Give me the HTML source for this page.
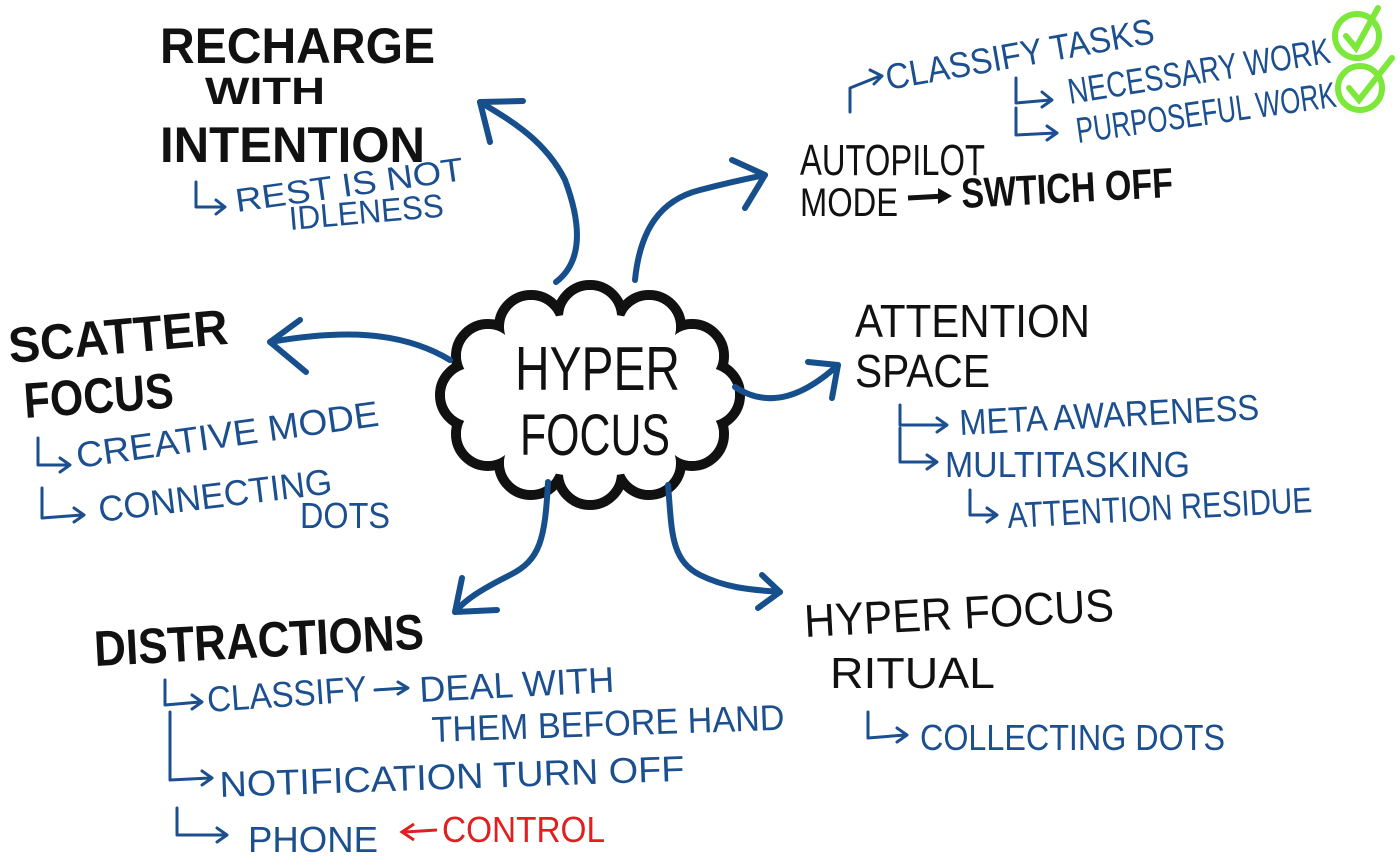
<!DOCTYPE html>
<html><head><meta charset="utf-8"><style>
html,body{margin:0;padding:0;background:#fff;}
svg{display:block}
.k{font-family:"Liberation Sans",sans-serif;font-weight:bold;fill:#111;font-size:50px}
.b{font-family:"Liberation Sans",sans-serif;fill:#1b4f8f;font-size:36px}
.r{font-family:"Liberation Sans",sans-serif;fill:#e02020;font-size:36px}
.a{fill:none;stroke:#164f8c;stroke-width:6;stroke-linecap:round;stroke-linejoin:round}
.s{fill:none;stroke:#1b4f8f;stroke-width:3;stroke-linecap:round;stroke-linejoin:round}
</style></head><body>
<svg width="1400" height="861" viewBox="0 0 1400 861" xmlns="http://www.w3.org/2000/svg">
<g stroke="#111" stroke-width="10" fill="#fff">
<circle cx="708" cy="395" r="32"/><circle cx="692" cy="356" r="32"/><circle cx="649" cy="327" r="32"/><circle cx="590" cy="317" r="32"/><circle cx="531" cy="327" r="32"/><circle cx="488" cy="356" r="32"/><circle cx="472" cy="395" r="32"/><circle cx="488" cy="434" r="32"/><circle cx="531" cy="463" r="32"/><circle cx="590" cy="473" r="32"/><circle cx="649" cy="463" r="32"/><circle cx="692" cy="434" r="32"/>
</g>
<g fill="#fff">
<circle cx="708" cy="395" r="27"/><circle cx="692" cy="356" r="27"/><circle cx="649" cy="327" r="27"/><circle cx="590" cy="317" r="27"/><circle cx="531" cy="327" r="27"/><circle cx="488" cy="356" r="27"/><circle cx="472" cy="395" r="27"/><circle cx="488" cy="434" r="27"/><circle cx="531" cy="463" r="27"/><circle cx="590" cy="473" r="27"/><circle cx="649" cy="463" r="27"/><circle cx="692" cy="434" r="27"/>
<ellipse cx="590" cy="395" rx="122" ry="82"/>
</g>
<text class="k" x="515" y="390" textLength="165" lengthAdjust="spacingAndGlyphs" style="font-weight:normal;font-size:62px">HYPER</text>
<text class="k" x="520" y="455" textLength="150" lengthAdjust="spacingAndGlyphs" style="font-weight:normal;font-size:58px">FOCUS</text>

<path class="a" d="M556 282 C585 260 580 220 565 180 C545 140 510 120 480 102"/>
<path class="a" d="M523 101 L480 102 L490 142"/>
<path class="a" d="M635 280 C640 230 660 200 700 190 C730 182 750 178 765 175"/>
<path class="a" d="M732 160 L765 175 L745 208"/>
<path class="a" d="M450 360 C400 330 340 330 270 342"/>
<path class="a" d="M300 320 L270 342 L306 372"/>
<path class="a" d="M735 387 C770 410 805 395 838 365"/>
<path class="a" d="M808 362 L838 365 L832 398"/>
<path class="a" d="M548 482 C545 540 540 560 510 575 C480 590 465 600 455 612"/>
<path class="a" d="M462 578 L455 612 L497 610"/>
<path class="a" d="M668 485 C672 530 670 560 700 575 C730 590 760 590 780 592"/>
<path class="a" d="M762 575 L780 592 L758 608"/>

<text class="k" x="160" y="63" textLength="275" lengthAdjust="spacingAndGlyphs">RECHARGE</text>
<text class="k" x="205" y="104" textLength="120" lengthAdjust="spacingAndGlyphs" style="font-size:38px">WITH</text>
<text class="k" x="160" y="162" textLength="265" lengthAdjust="spacingAndGlyphs">INTENTION</text>
<path class="s" d="M196 182 L196 207 L225 207 M216 200 L225 207 L216 214"/>
<text class="b" x="237" y="212" textLength="230" lengthAdjust="spacingAndGlyphs" transform="rotate(-8 237 212)" style="font-size:33px">REST IS NOT</text>
<text class="b" x="290" y="230" textLength="155" lengthAdjust="spacingAndGlyphs" transform="rotate(-5 290 230)" style="font-size:33px">IDLENESS</text>

<path class="s" d="M850 112 L850 88 L880 76 M870 70 L882 76 L874 84"/>
<text class="b" x="888" y="90" textLength="272" lengthAdjust="spacingAndGlyphs" transform="rotate(-10 888 90)">CLASSIFY TASKS</text>
<path class="s" d="M1016 78 L1016 103 L1050 100 M1042 92 L1052 100 L1042 107"/>
<text class="b" x="1070" y="104" textLength="265" lengthAdjust="spacingAndGlyphs" transform="rotate(-9 1070 104)">NECESSARY WORK</text>
<path class="s" d="M1016 108 L1016 135 L1055 133 M1047 126 L1057 133 L1047 140"/>
<text class="b" x="1078" y="143" textLength="262" lengthAdjust="spacingAndGlyphs" transform="rotate(-8 1078 143)">PURPOSEFUL WORK</text>
<g fill="none" stroke="#7be83a" stroke-width="6" stroke-linecap="round">
<circle cx="1357" cy="36" r="22"/><path d="M1346 36 L1356 48 L1378 8"/>
<circle cx="1360" cy="88" r="22"/><path d="M1349 88 L1359 100 L1392 58"/>
</g>
<text class="k" x="800" y="175" textLength="185" lengthAdjust="spacingAndGlyphs" style="font-weight:normal;font-size:44px">AUTOPILOT</text>
<text class="k" x="800" y="216" textLength="98" lengthAdjust="spacingAndGlyphs" style="font-weight:normal;font-size:40px">MODE</text>
<path d="M908 198 L945 196" stroke="#111" stroke-width="5"/><path d="M938 188 L952 196 L938 204 Z" fill="#111"/>
<text class="k" x="962" y="208" textLength="212" lengthAdjust="spacingAndGlyphs" transform="rotate(-3 962 208)" style="font-size:42px">SWTICH OFF</text>

<text class="k" x="10" y="363" textLength="220" lengthAdjust="spacingAndGlyphs" transform="rotate(-5 10 363)">SCATTER</text>
<text class="k" x="25" y="418" textLength="150" lengthAdjust="spacingAndGlyphs" transform="rotate(-4 25 418)">FOCUS</text>
<path class="s" d="M38 438 L38 465 L68 465 M60 458 L70 465 L60 472"/>
<text class="b" x="78" y="468" textLength="305" lengthAdjust="spacingAndGlyphs" transform="rotate(-8 78 468)">CREATIVE MODE</text>
<path class="s" d="M42 488 L42 518 L82 515 M74 508 L84 515 L74 522"/>
<text class="b" x="100" y="522" textLength="235" lengthAdjust="spacingAndGlyphs" transform="rotate(-7 100 522)">CONNECTING</text>
<text class="b" x="300" y="528" textLength="90" lengthAdjust="spacingAndGlyphs">DOTS</text>

<text class="k" x="855" y="337" textLength="235" lengthAdjust="spacingAndGlyphs" style="font-weight:normal;font-size:46px">ATTENTION</text>
<text class="k" x="855" y="387" textLength="135" lengthAdjust="spacingAndGlyphs" style="font-weight:normal;font-size:46px">SPACE</text>
<path class="s" d="M900 405 L900 425 L945 425 M937 418 L947 425 L937 432"/>
<text class="b" x="960" y="435" textLength="300" lengthAdjust="spacingAndGlyphs" transform="rotate(-3 960 435)">META AWARENESS</text>
<path class="s" d="M900 428 L900 462 L935 462 M927 455 L937 462 L927 469"/>
<text class="b" x="945" y="477" textLength="245" lengthAdjust="spacingAndGlyphs">MULTITASKING</text>
<path class="s" d="M970 490 L970 515 L995 515 M987 508 L997 515 L987 522"/>
<text class="b" x="1008" y="528" textLength="305" lengthAdjust="spacingAndGlyphs" transform="rotate(-3 1008 528)">ATTENTION RESIDUE</text>

<text class="k" x="95" y="666" textLength="330" lengthAdjust="spacingAndGlyphs" transform="rotate(-3 95 666)">DISTRACTIONS</text>
<path class="s" d="M165 680 L165 705 L200 702 M192 695 L202 702 L192 709"/>
<text class="b" x="208" y="712" textLength="160" lengthAdjust="spacingAndGlyphs" transform="rotate(-4 208 712)">CLASSIFY</text>
<path class="s" d="M375 690 L405 688 M398 682 L408 688 L398 694"/>
<text class="b" x="420" y="702" textLength="195" lengthAdjust="spacingAndGlyphs" transform="rotate(-3 420 702)">DEAL WITH</text>
<text class="b" x="432" y="742" textLength="353" lengthAdjust="spacingAndGlyphs" transform="rotate(-2 432 742)">THEM BEFORE HAND</text>
<path class="s" d="M170 712 L170 780 L210 778 M202 771 L212 778 L202 785"/>
<text class="b" x="220" y="797" textLength="465" lengthAdjust="spacingAndGlyphs" transform="rotate(-2 220 797)">NOTIFICATION TURN OFF</text>
<path class="s" d="M177 808 L177 835 L225 835 M217 828 L227 835 L217 842"/>
<text class="b" x="248" y="852" textLength="130" lengthAdjust="spacingAndGlyphs">PHONE</text>
<path d="M437 830 L405 832 M414 824 L402 832 L414 840" fill="none" stroke="#e02020" stroke-width="3"/>
<text class="r" x="442" y="842" textLength="163" lengthAdjust="spacingAndGlyphs">CONTROL</text>

<text class="k" x="805" y="637" textLength="310" lengthAdjust="spacingAndGlyphs" transform="rotate(-3 805 637)" style="font-weight:normal;font-size:46px">HYPER FOCUS</text>
<text class="k" x="830" y="688" textLength="165" lengthAdjust="spacingAndGlyphs" style="font-weight:normal;font-size:44px">RITUAL</text>
<path class="s" d="M868 712 L868 738 L905 735 M897 728 L907 735 L897 742"/>
<text class="b" x="920" y="750" textLength="305" lengthAdjust="spacingAndGlyphs">COLLECTING DOTS</text>
</svg>
</body></html>
